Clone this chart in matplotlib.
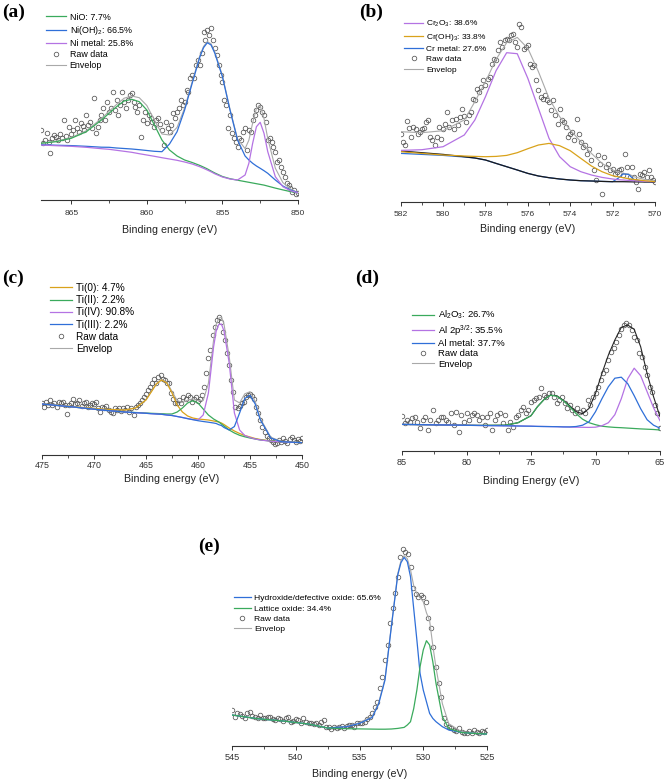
import numpy as np
import matplotlib
matplotlib.use('Agg')
import matplotlib.pyplot as plt
from matplotlib.lines import Line2D

plt.rcParams['font.family'] = ['Liberation Sans', 'DejaVu Sans']
plt.rcParams['mathtext.fontset'] = 'custom'
plt.rcParams['mathtext.rm'] = 'Liberation Sans'
plt.rcParams['mathtext.it'] = 'Liberation Sans:italic'

# ---------------- (a) Ni 2p ----------------
a_raw_E = np.linspace(867, 850, 137)
a_raw_I = [70, 57, 60, 67, 58, 47, 62, 65,
           63, 60, 66, 62, 80, 64, 60, 73,
           66, 70, 80, 72, 68, 77, 74, 70,
           85, 75, 78, 72, 102, 67, 73, 80,
           85, 92, 80, 98, 88, 92, 108, 90,
           100, 85, 95, 108, 98, 92, 100, 105,
           107, 98, 93, 88, 95, 63, 80, 88,
           77, 85, 82, 78, 73, 80, 82, 76,
           70, 55, 78, 72, 68, 75, 87, 82,
           88, 92, 100, 95, 98, 110, 108, 122,
           125, 122, 135, 140, 135, 147, 168, 160,
           170, 165, 172, 160, 152, 145, 135, 125,
           118, 100, 95, 72, 85, 67, 62, 58,
           53, 62, 60, 68, 72, 50, 70, 68,
           80, 85, 90, 95, 93, 88, 85, 78,
           60, 62, 58, 53, 48, 38, 40, 33,
           28, 23, 17, 15, 12, 8, 10, 6,
           7]
a_fit_E = [867, 866, 865, 864, 863, 862.5, 862, 861.5, 861, 860.5, 860, 859.5,
           859, 858.5, 858, 857.5, 857, 856.5, 856.25, 856, 855.75, 855.5, 855,
           854.5, 854, 853.5, 853.25, 853, 852.75, 852.5, 852.25, 852, 851.5,
           851, 850.5, 850]
a_NiO = [56.7, 58.3, 61.7, 68.3, 80, 86.7, 93.3, 99, 100.7, 98.3, 90, 75,
         60, 50, 44, 40, 37.5, 34.6, 32.9, 31.1, 29, 27, 23.5, 21.3, 19.8,
         18.4, 17.7, 17, 16.3, 15.6, 14.9, 13.9, 11.9, 10.1, 8.4, 7.3]
a_NiOH2 = [55.3, 54.8, 54.4, 53.7, 52.8, 52.7, 52, 51.5, 51, 50.3, 49.5, 48.7,
           48.3, 56, 68.3, 90, 116.7, 142.7, 152.3, 157.3, 155, 146.7, 123.3,
           90, 60, 44, 40, 36.7, 34, 31.7, 29.3, 26.7, 20, 14, 10, 7.3]
a_Ni = [55, 54.3, 53.7, 52.7, 51.3, 50.7, 49.7, 48.7, 47.7, 46.3, 45, 43.7,
        42.3, 41, 39.7, 38, 36, 33.3, 31.7, 30, 28.2, 26.2, 23, 21, 20, 25,
        36.7, 56.7, 73.3, 77.7, 66.7, 48.3, 23.3, 13.3, 9.3, 7.3]
a_env = [57, 58.8, 62.4, 69.3, 81.5, 88.7, 95.6, 101.8, 104, 102.3, 94.5, 80,
         66, 65, 72.6, 92, 118.2, 144, 153.5, 158.4, 156.2, 147.9, 124.4, 90.9,
         61.2, 51.4, 59.8, 77, 91.6, 94.4, 81.5, 61.5, 31.8, 17.4, 11.1, 7.3]
a_labels = ['NiO: 7.7%', 'Ni(OH)$_2$: 66.5%', 'Ni metal: 25.8%']

# ---------------- (b) Cr 2p ----------------
b_raw_E = np.linspace(582, 570, 121)
b_raw_I = [68, 60, 57, 81, 74, 65, 75, 73, 68, 70,
           73, 74, 80, 82, 65, 62, 57, 65, 75, 63,
           73, 78, 90, 75, 82, 73, 83, 77, 85, 93,
           86, 80, 87, 90, 103, 102, 113, 110, 115, 122,
           117, 123, 125, 138, 143, 142, 152, 160, 155, 162,
           163, 162, 167, 168, 160, 155, 178, 175, 153, 155,
           157, 138, 135, 137, 122, 112, 105, 103, 107, 102,
           100, 92, 102, 87, 78, 93, 82, 80, 75, 65,
           68, 70, 62, 83, 68, 60, 55, 57, 48, 53,
           42, 32, 22, 47, 38, 8, 45, 35, 38, 32,
           33, 28, 30, 32, 33, 27, 48, 35, 25, 35,
           25, 20, 13, 28, 27, 30, 25, 32, 25, 22,
           20]
b_fit_E = [582, 581, 580, 579, 578.5, 578, 577.5, 577, 576.5, 576, 575.5, 575,
           574.5, 574, 573.5, 573, 572.5, 572, 571.75, 571.5, 571.25, 571,
           570.5, 570]
b_bg = [50.7, 49, 47.3, 45, 43.7, 41.7, 38.3, 35, 31.7, 28.3, 25.7, 24, 22.7,
        21.7, 21, 20.7, 20.3, 20, 20, 20, 19.9, 19.8, 19.7, 19.7]
b_Cr2O3 = [51.3, 52, 55, 66.7, 81.7, 105, 131, 149, 148, 123.3, 93.3, 63.3,
           45, 35, 30, 26.7, 24.3, 22.7, 22, 21.7, 21.3, 21, 20.3, 20]
b_CrOH3 = [50, 48.3, 46.7, 45.7, 45.3, 45, 45.3, 46.3, 49, 53, 56.7, 58.3, 56,
           51, 43.3, 35.7, 30, 26, 25, 24, 23, 22.3, 21, 20]
b_Cr = [48.3, 47.3, 46.3, 44.7, 43.7, 41.7, 38.3, 35, 31.7, 28.3, 25.7, 24,
        22.7, 21.7, 21, 20.7, 20.3, 20, 23.3, 27.7, 27.3, 22.3, 20, 19.7]
b_env = [70, 69, 71, 81.7, 100, 120, 142.3, 159, 164.3, 153.3, 130, 103.3, 85,
         71.7, 60, 48.3, 38.3, 31.7, 30, 28.3, 27.7, 25, 22.3, 20.7]
b_labels = ['Cr$_2$O$_3$: 38.6%', 'Cr(OH)$_3$: 33.8%', 'Cr metal: 27.6%']

# ---------------- (c) Ti 2p ----------------
c_raw_E = np.linspace(475, 450, 126)
c_raw_I = [51.7, 48.3, 53.3, 50, 55, 50, 51.7, 48.3, 53.3, 51.7,
           53.3, 50, 41, 50, 51.7, 55.7, 51, 52.3, 55, 49.3,
           51.7, 53.3, 48.3, 50, 52.3, 51, 53.3, 46.7, 43.3, 48.3,
           46.7, 49, 45, 43.3, 41.7, 46.7, 45, 47.3, 44.3, 46.7,
           45, 48.3, 43.3, 46.7, 40, 48.3, 50, 51.7, 55, 58.3,
           61, 65, 68.3, 72.3, 75.7, 72.3, 78.3, 80, 75.7, 75,
           71.7, 72.3, 62.3, 55.7, 51.7, 52.3, 55, 51.7, 58.3, 55.7,
           60, 58.3, 53.3, 55.7, 58.3, 54.3, 55.7, 60, 68.3, 81.7,
           96.7, 105, 120, 127.7, 135, 137.7, 133.3, 123.3, 115, 101.7,
           90, 75, 63.3, 48.3, 46.7, 49, 51.7, 53.3, 58.3, 60,
           61, 59, 55.7, 48.3, 41.7, 35, 28.3, 23.3, 19, 16.7,
           15, 13.3, 11, 12.3, 15, 13.3, 16.7, 14.3, 12.3, 15.7,
           18.3, 15, 13.3, 15.7, 14.3, 16.7]
c_fit_E = [475, 472, 469, 467, 466, 465, 464.5, 464, 463.5, 463, 462.5, 462,
           461.5, 461, 460.5, 460, 459.5, 459, 458.5, 458.25, 458, 457.75,
           457.5, 457, 456.5, 456, 455.5, 455, 454.5, 454, 453, 452, 450]
c_Ti0 = [51, 48.3, 45.7, 45, 47, 55, 63, 71, 75, 72, 62, 50, 43, 39, 37, 36,
         35.5, 35, 34, 33.5, 33, 32, 30.5, 27, 24, 21.5, 19.5, 18, 16.5, 15.5,
         14, 13.2, 12.3]
c_TiII = [51, 48, 44.7, 43, 42.5, 42, 41.7, 41.5, 41.3, 41, 41, 43, 47, 52,
          54.3, 52, 46, 40, 36, 34.5, 33, 31, 29, 25, 22, 19.7, 18.2, 17, 16,
          15, 14, 13.2, 12.3]
c_TiIV = [51, 48, 44.7, 43, 42.3, 41.7, 41.3, 41, 40.7, 40, 39.5, 38.5, 37.5,
          36.5, 35.5, 35, 40, 62, 108.3, 124, 130.5, 131, 124, 92, 42, 25,
          19.5, 17.5, 16, 15, 13.8, 13.1, 12.3]
c_TiIII = [51, 48, 44.7, 43, 42.3, 41.7, 41.3, 41, 40.7, 40, 39.5, 38.5, 37.5,
           36.3, 35.3, 34.3, 33.5, 32.8, 32, 31.5, 30.3, 29.5, 27.5, 25, 28.5,
           42, 56.5, 59.7, 51, 35, 17, 13.3, 12.3]
c_env = [51, 48.3, 45.7, 45, 47.2, 55.3, 63.4, 71.5, 75.6, 73, 63.5, 54.5,
         52.5, 54.9, 56.2, 54.4, 54.5, 71.7, 115.2, 130.5, 136.8, 138, 130.9,
         98.5, 55, 52.1, 61.2, 63.3, 53.6, 36.4, 17.7, 13.8, 12.3]
c_labels = ['Ti(0): 4.7%', 'Ti(II): 2.2%', 'Ti(IV): 90.8%', 'Ti(III): 2.2%']

# ---------------- (d) Al 2p ----------------
d_raw_E = np.linspace(85, 65, 101)
d_raw_I = [34.7, 27.3, 30.7, 29, 32.3, 34, 29, 22.3, 30.7, 34,
           20.7, 30.7, 40.7, 27.3, 30.7, 34, 34, 30.7, 29, 37.3,
           25.7, 39, 19, 35.7, 29, 37.3, 30.7, 35.7, 37.3, 35.7,
           30.7, 34, 25.7, 34, 37.3, 20.7, 30.7, 35.7, 37.3, 27.3,
           35.7, 20.7, 29, 24, 34, 35.7, 40.7, 44, 37.3, 40.7,
           49, 50.7, 52.3, 54, 62.3, 55.7, 54, 57.3, 57.3, 54,
           47.3, 50.7, 54, 47.3, 42.3, 45.7, 40.7, 37.3, 42.3, 39,
           40.7, 37.3, 50.7, 45.7, 54, 57.3, 64, 70.7, 77.3, 80.7,
           90.7, 99, 102.3, 109, 115.7, 121.3, 125.7, 128, 125.7, 120.7,
           114, 110.7, 97.3, 94, 84, 75.7, 64, 59, 45.7, 37.3,
           22.3]
d_fit_E = [85, 82, 79, 77, 76, 75, 74.5, 74, 73.5, 73, 72.5, 72, 71.5, 71,
           70.5, 70, 69.5, 69, 68.5, 68, 67.5, 67, 66.5, 66, 65.5, 65]
d_Al2O3 = [26.3, 25.8, 25.3, 25.5, 28, 35, 44, 51, 55.5, 54.5, 50, 44, 37,
           31.5, 28, 26, 24.5, 23.8, 23.3, 23, 22.6, 22.2, 21.8, 21.5, 21.2,
           20.7]
d_Al2p = [26.3, 25.8, 25.2, 24.9, 24.7, 24.5, 24.3, 24.2, 24.1, 24, 23.8,
          23.6, 23.5, 23.4, 23.3, 23.5, 25, 28, 36, 52, 72, 82.5, 75, 59, 43,
          30]
d_Al = [26.3, 25.8, 25.2, 24.9, 24.7, 24.5, 24.3, 24.2, 24.1, 24, 23.8, 23.8,
        24.2, 25.5, 29, 39, 52, 64, 72.5, 73.5, 67, 55, 42, 31, 25.5, 22.5]
d_env = [26.3, 25.8, 25.3, 25.5, 28, 35, 44, 51, 55.5, 55, 50.5, 45, 39, 37,
         42.3, 57.3, 77.3, 95.7, 110.7, 123.3, 125.7, 121.3, 104, 77.3, 54, 34]
d_labels = ['Al$_2$O$_3$: 26.7%', 'Al 2p$^{3/2}$: 35.5%', 'Al metal: 37.7%']

# ---------------- (e) O 1s ----------------
e_raw_E = np.linspace(545, 525, 101)
e_raw_I = [35.7, 29, 32.3, 31.3, 29.7, 27.3, 32.3, 33.3, 29.7, 28.3,
           27.3, 30.7, 28, 27.3, 28.3, 29, 26.3, 25.7, 27.3, 26.3,
           25, 27.3, 28.3, 24, 25, 26.3, 25.7, 22.3, 27.3, 24,
           23, 23, 21.7, 22.3, 20.7, 24, 25.7, 19, 18.3, 16.3,
           19, 17.3, 19, 19.7, 17.7, 19.7, 20.3, 20.7, 19, 22.3,
           23, 22.3, 24, 26.3, 28.3, 32.3, 38.3, 44, 57.3, 69,
           85.7, 100.7, 122.3, 137.3, 152.3, 169, 188.3, 196.3, 194, 191.7,
           178.3, 157.3, 151.7, 149, 150.7, 148.3, 144, 127.3, 117.3, 99,
           79, 62.3, 49, 27.3, 21.7, 19, 17.3, 15.7, 15, 17.3,
           14, 13, 12.3, 15, 13, 15.7, 14, 12.3, 15, 14,
           15.7]
e_fit_E = [545, 543, 541, 539, 537.5, 536, 535, 534, 533.5, 533, 532.5, 532,
           531.75, 531.5, 531.25, 531, 530.75, 530.5, 530.25, 530, 529.75,
           529.5, 529.25, 529, 528.5, 528, 527, 526, 525]
e_hydroxide = [30.7, 27, 24.7, 21.7, 17.7, 19, 22.3, 28.3, 41.7, 65.7, 119,
               170.7, 183, 188.3, 184, 169, 137.3, 105.7, 72.3, 55.7, 44, 32.3,
               27.3, 24, 19, 15.7, 13.3, 12.3, 11.7]
e_lattice = [30.7, 27, 24.7, 21.7, 17.7, 17, 16.8, 16.6, 16.5, 16.5, 16.7,
             17.3, 17.8, 18.3, 20.7, 24, 37, 55.7, 79, 95.7, 105, 100.7, 84,
             62.3, 29, 17.3, 13.2, 12.3, 11.7]
e_env = [30.7, 27, 24.7, 21.7, 17.7, 19.5, 23, 29.5, 43, 67, 120, 172, 185,
         190, 187, 176, 160, 152, 148, 144, 133, 125, 100, 78, 42, 22, 14,
         12.7, 11.7]
e_labels = ['Hydroxide/defective oxide: 65.6%', 'Lattice oxide: 34.4%']

GREEN = '#3aaa5c'
BLUE = '#2f6fd8'
PURPLE = '#b473e3'
ORANGE = '#d9a21b'
GREY = '#a9a9a9'
RAW = '#555555'

W, H = 667, 779
fig = plt.figure(figsize=(W / 100, H / 100), dpi=100)


def panel(box, xlim, step, raw_e, raw_i, fit_e, lines, env, legend_items, leg,
          xlabel, tick_fs=6, tick_pad=2, labelpad=3, env_color=GREY):
    # box = (left, right, bottom, top) in pixels of the final image
    left, right, bottom, top = box
    ax = fig.add_axes([left / W, 1 - bottom / H, (right - left) / W, (bottom - top) / H])
    ax.plot(raw_e, raw_i, 'o', ms=3.3, mfc='none', mec=RAW, mew=0.55, zorder=2)
    ax.plot(fit_e, env, color=env_color, lw=0.8, zorder=3)
    for vals, color in lines:
        ax.plot(fit_e, vals, color=color, lw=0.9, zorder=4)

    handles = [Line2D([], [], color=c, lw=0.9) for c, _ in legend_items]
    labels = [t for _, t in legend_items]
    handles.append(Line2D([], [], ls='none', marker='o', ms=3.3, mfc='none',
                          mec=RAW, mew=0.55))
    handles.append(Line2D([], [], color=GREY, lw=0.8))
    labels += ['Raw data', 'Envelop']

    ax.set_xlim(*xlim)
    ax.set_ylim(0, bottom - top)
    ax.set_xticks(np.arange(xlim[1], xlim[0] + 0.01, step))
    ax.set_xticks(np.arange(xlim[1] + step / 2, xlim[0], step), minor=True)
    ax.set_yticks([])
    for s in ['left', 'top', 'right']:
        ax.spines[s].set_visible(False)
    ax.spines['bottom'].set_color('#333333')
    ax.spines['bottom'].set_linewidth(0.8)
    ax.tick_params(axis='x', which='major', direction='out', length=3, width=0.7,
                   colors='#333333', labelsize=tick_fs, pad=tick_pad)
    ax.tick_params(axis='x', which='minor', direction='out', length=1.8, width=0.6,
                   colors='#333333')
    ax.set_xlabel(xlabel, fontsize=7.7, labelpad=labelpad, color='#222222')
    ax.patch.set_alpha(0)

    lx, ly, fs, ls, hl = leg
    ax.legend(handles, labels, loc='upper left',
              bbox_to_anchor=(lx / W, 1 - ly / H), bbox_transform=fig.transFigure,
              frameon=False, fontsize=fs, handlelength=hl, handletextpad=0.4,
              labelspacing=ls, borderpad=0, borderaxespad=0)
    return ax


panel((41, 298, 200, 25), (867, 850), 5, a_raw_E, a_raw_I, a_fit_E,
      [(a_NiO, GREEN), (a_NiOH2, BLUE), (a_Ni, PURPLE)], a_env,
      [(GREEN, a_labels[0]), (BLUE, a_labels[1]), (PURPLE, a_labels[2])],
      (45.7, 12.5, 6.4, 0.25, 2.3), 'Binding energy (eV)',
      tick_fs=6.1, tick_pad=4.2, labelpad=5.5)

panel((400.7, 655, 201.7, 20), (582, 570), 2, b_raw_E, b_raw_I, b_fit_E,
      [(b_Cr, BLUE), (b_bg, '#1a1a1a'), (b_Cr2O3, PURPLE), (b_CrOH3, ORANGE)], b_env,
      [(PURPLE, b_labels[0]), (ORANGE, b_labels[1]), (BLUE, b_labels[2])],
      (404, 19, 6.0, 0.3, 2.3), 'Binding energy (eV)',
      tick_fs=6.1, tick_pad=3.8, labelpad=4.5)

panel((42, 302, 455, 310), (475, 450), 5, c_raw_E, c_raw_I, c_fit_E,
      [(c_Ti0, ORANGE), (c_TiII, GREEN), (c_TiIV, PURPLE), (c_TiIII, BLUE)], c_env,
      [(ORANGE, c_labels[0]), (GREEN, c_labels[1]), (PURPLE, c_labels[2]),
       (BLUE, c_labels[3])],
      (50, 283, 7.2, 0.22, 2.2), 'Binding energy (eV)',
      tick_fs=6.4, tick_pad=1.5, labelpad=3)

panel((402, 660, 450.7, 318), (85, 65), 5, d_raw_E, d_raw_I, d_fit_E,
      [(d_Al2O3, GREEN), (d_Al2p, PURPLE), (d_Al, BLUE)], d_env,
      [(GREEN, d_labels[0]), (PURPLE, d_labels[1]), (BLUE, d_labels[2])],
      (412.3, 309, 6.8, 0.15, 2.3), 'Binding Energy (eV)',
      tick_fs=6.6, tick_pad=2, labelpad=6.5, env_color='#262626')

panel((232, 487, 745.7, 545), (545, 525), 5, e_raw_E, e_raw_I, e_fit_E,
      [(e_hydroxide, BLUE), (e_lattice, GREEN)], e_env,
      [(BLUE, e_labels[0]), (GREEN, e_labels[1])],
      (234, 594.5, 6.1, 0.28, 2.0), 'Binding energy (eV)',
      tick_fs=6.6, tick_pad=2, labelpad=5)

for lab, x, y in [('(a)', 2, 12), ('(b)', 359, 12), ('(c)', 2, 278),
                  ('(d)', 355, 278), ('(e)', 198, 546)]:
    fig.text(x / W, 1 - y / H, lab, family='Liberation Serif', weight='bold',
             fontsize=14, ha='left', va='center')

fig.savefig('out.png', dpi=100)
